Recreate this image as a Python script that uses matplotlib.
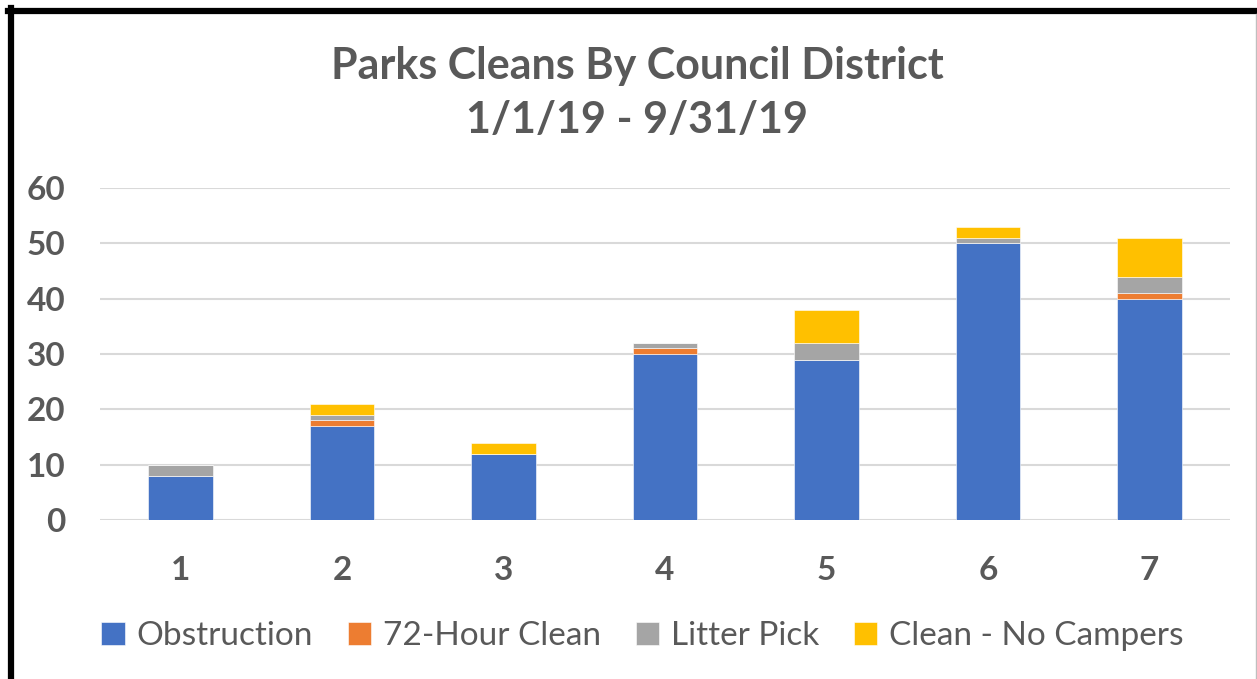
import numpy as np
import matplotlib.pyplot as plt
from matplotlib.lines import Line2D

districts = ['1', '2', '3', '4', '5', '6', '7']
obstruction = [8, 17, 12, 30, 29, 50, 40]
hour72 = [0, 1, 0, 1, 0, 0, 1]
litter = [2, 1, 0, 1, 3, 1, 3]
no_campers = [0, 2, 2, 0, 6, 2, 7]

series = [
    ('Obstruction', obstruction, '#4472C4'),
    ('72-Hour Clean', hour72, '#ED7D31'),
    ('Litter Pick', litter, '#A5A5A5'),
    ('Clean - No Campers', no_campers, '#FFC000'),
]

plt.rcParams['font.family'] = ['Lato', 'DejaVu Sans']
txt = '#595959'

fig = plt.figure(figsize=(12.57, 6.79), dpi=100)
ax = fig.add_axes([100 / 1257, 1 - 520 / 679, 1130 / 1257, 332 / 679])

x = np.arange(len(districts))
bottom = np.zeros(len(districts))
for name, vals, col in series:
    ax.bar(x, vals, width=0.4, bottom=bottom, color=col, label=name,
           edgecolor='white', linewidth=0.4, zorder=3)
    bottom += np.array(vals)

ax.set_xlim(-0.5, len(districts) - 0.5)
ax.set_ylim(0, 60)
ax.set_yticks(range(0, 61, 10))
ax.set_xticks(x)
ax.set_xticklabels(districts)
ax.grid(axis='y', color='#d9d9d9', linewidth=1.5, zorder=0)
for s in ax.spines.values():
    s.set_visible(False)
ax.tick_params(length=0, labelsize=24, colors=txt)
ax.tick_params(axis='x', pad=26)
ax.tick_params(axis='y', pad=25)
for lbl in ax.get_xticklabels() + ax.get_yticklabels():
    lbl.set_fontweight('bold')

fig.text(0.507, 1 - 93 / 679, 'Parks Cleans By Council District\n1/1/19 - 9/31/19',
         ha='center', va='center', fontsize=31, fontweight='bold', color=txt,
         linespacing=1.4)

fig.legend(loc='center', bbox_to_anchor=(0.511, 1 - 636 / 679), ncol=4,
           frameon=False, fontsize=24, labelcolor=txt, handlelength=0.7,
           handleheight=0.7, handletextpad=0.35, columnspacing=1.05)

# outer frame like the pasted screenshot
fig.add_artist(Line2D([11 / 1257, 11 / 1257], [0, 1 - 8 / 679],
                      transform=fig.transFigure, color='black', lw=4.5))
fig.add_artist(Line2D([8 / 1257, 1], [1 - 11 / 679, 1 - 11 / 679],
                      transform=fig.transFigure, color='black', lw=4.5))
fig.add_artist(Line2D([1256 / 1257, 1256 / 1257], [0, 1 - 14 / 679],
                      transform=fig.transFigure, color='#bfbfbf', lw=1))

fig.savefig('out.png', dpi=100)
